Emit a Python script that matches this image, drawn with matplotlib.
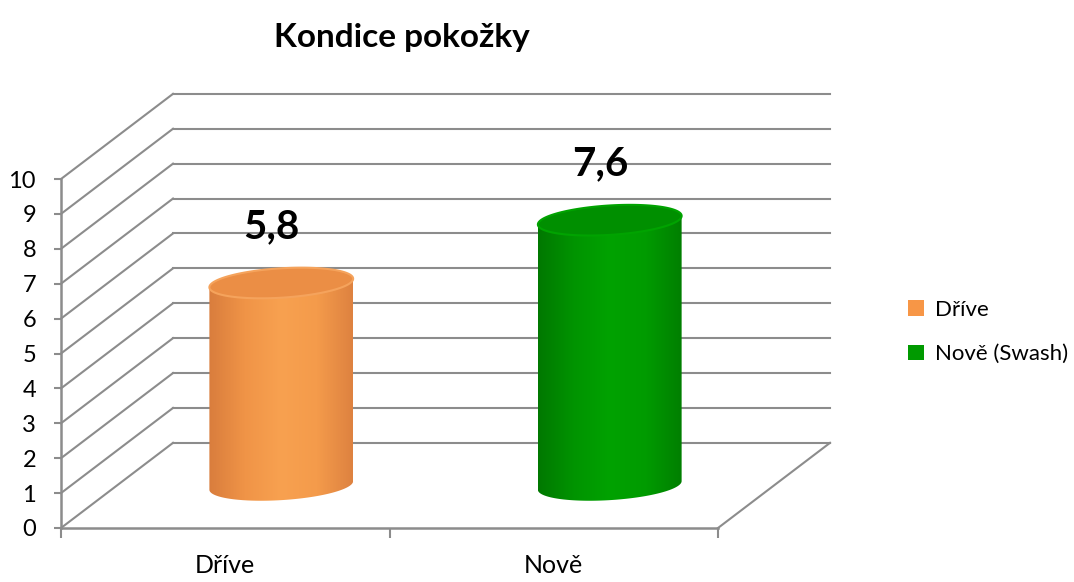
import numpy as np
import matplotlib
matplotlib.use("Agg")
import matplotlib.pyplot as plt
from matplotlib.patches import Polygon, Patch
from matplotlib.colors import LinearSegmentedColormap

# data
categories = ["Dříve", "Nově"]
values = [5.8, 7.6]
value_labels = ["5,8", "7,6"]
legend_labels = ["Dříve", "Nově (Swash)"]
y_ticks = list(range(0, 11))

title = "Kondice pokožky"

# styling
plt.rcParams['font.family'] = ['Lato', 'DejaVu Sans']
grid_col = "#8c8c8c"
legend_cols = ["#F79646", "#009A00"]
body_cmaps = [
    LinearSegmentedColormap.from_list("o", ["#d97d3d", "#f09447", "#f8a150", "#f49b4b", "#de8240"]),
    LinearSegmentedColormap.from_list("g", ["#007800", "#009400", "#00a200", "#009b00", "#007f00"]),
]
top_cols = ["#eb8e45", "#008f00"]
top_edge = ["#f5a35c", "#00a300"]

# oblique projection of depth (category units / value units for full depth)
DX, DY = 0.341, 2.44
depth_c = 0.5
r_x, r_d = 0.21, 0.18

fig = plt.figure(figsize=(10.74, 5.82), dpi=100)
ax = fig.add_axes([61 / 1074, 54 / 582, 657 / 1074, 349 / 582])

n = len(categories)

# back wall gridlines and side diagonals
for k in y_ticks:
    ax.plot([0, DX], [k, k + DY], color=grid_col, lw=1.5, clip_on=False, zorder=1)
    ax.plot([DX, n + DX], [k + DY, k + DY], color=grid_col, lw=1.5, clip_on=False, zorder=1)
# floor right edge
ax.plot([n, n + DX], [0, DY], color=grid_col, lw=1.5, clip_on=False, zorder=1)


def ellipse_xy(cx, y, t):
    return (cx + r_x * np.cos(t) + r_d * DX * np.sin(t) + depth_c * DX,
            y + depth_c * DY + r_d * DY * np.sin(t))


t_max = np.arctan2(r_d * DX, r_x)
for i, v in enumerate(values):
    cx = i + 0.5
    tb = np.linspace(t_max - np.pi, t_max, 120)
    tt = np.linspace(t_max, t_max + np.pi, 120)
    bx, by = ellipse_xy(cx, 0, tb)
    tx, ty = ellipse_xy(cx, v, tt)
    body = np.column_stack([np.r_[bx, tx], np.r_[by, ty]])
    poly = Polygon(body, closed=True, facecolor="none", edgecolor="none", zorder=3)
    ax.add_patch(poly)
    grad = np.linspace(0, 1, 256)[None, :]
    im = ax.imshow(grad, extent=[body[:, 0].min(), body[:, 0].max(), body[:, 1].min(), body[:, 1].max()],
                   aspect="auto", cmap=body_cmaps[i], zorder=3, interpolation="bilinear")
    im.set_clip_path(poly)

    # top cap
    tf = np.linspace(0, 2 * np.pi, 240)
    ex, ey = ellipse_xy(cx, v, tf)
    ax.add_patch(Polygon(np.column_stack([ex, ey]), closed=True, facecolor=top_cols[i],
                         edgecolor=top_edge[i], lw=1.5, zorder=4))

    ax.text(cx + depth_c * DX - 0.03, v + depth_c * DY + r_d * DY + 0.65, value_labels[i],
            ha="center", va="bottom", fontsize=29, fontweight="bold", color="black", zorder=5)

ax.set_xlim(0, n)
ax.set_ylim(0, 10)
ax.set_yticks(y_ticks)
ax.set_xticks([i + 0.5 for i in range(n)])
ax.set_xticklabels(categories)
ax.set_xticks(range(n + 1), minor=True)
ax.tick_params(axis="x", which="major", length=0, pad=19, labelsize=18)
ax.tick_params(axis="x", which="minor", length=7, width=1.5, color=grid_col)
ax.tick_params(axis="y", length=5, width=1.5, color=grid_col, pad=13, labelsize=17)
for s in ["top", "right"]:
    ax.spines[s].set_visible(False)
for s in ["left", "bottom"]:
    ax.spines[s].set_color(grid_col)
    ax.spines[s].set_linewidth(1.8)
ax.set_facecolor("none")

fig.text(402 / 1074, 1 - 38 / 582, title, ha="center", va="center", fontsize=24, fontweight="bold")

handles = [Patch(facecolor=c, edgecolor="none") for c in legend_cols]
fig.legend(handles, legend_labels, loc="center left", bbox_to_anchor=(888 / 1074, 1 - 332 / 582),
           frameon=False, fontsize=16, handlelength=0.7, handleheight=0.7, handletextpad=0.5,
           labelspacing=1.1)

fig.savefig("out.png", dpi=100)
